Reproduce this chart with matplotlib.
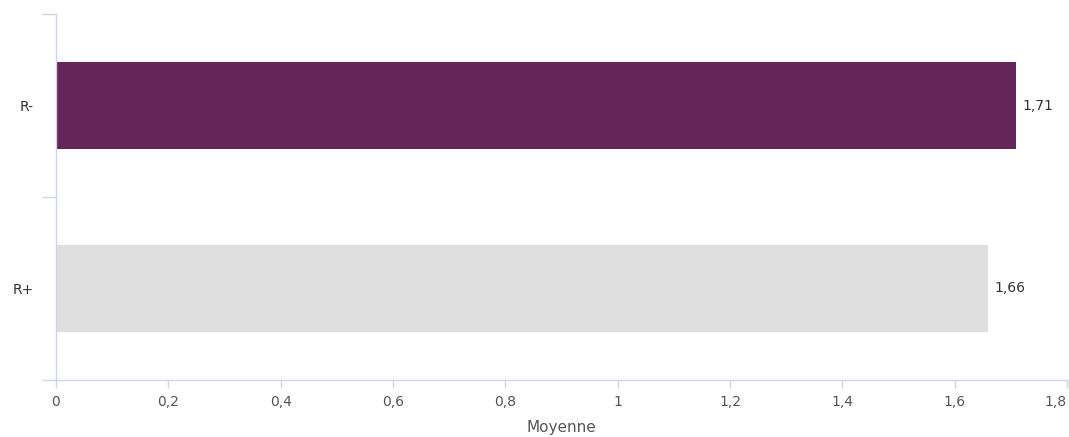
import matplotlib
matplotlib.use('Agg')
import matplotlib.pyplot as plt

# data
categories = ['R+', 'R-']
moyennes = [1.66, 1.71]
bar_colors = ['#dfdfdf', '#642559']
value_labels = ['1,66', '1,71']
x_ticks = [0, 0.2, 0.4, 0.6, 0.8, 1.0, 1.2, 1.4, 1.6, 1.8]
x_tick_labels = ['0', '0,2', '0,4', '0,6', '0,8', '1', '1,2', '1,4', '1,6', '1,8']

plt.rcParams['font.family'] = ['DejaVu Sans']
axis_color = '#ccd6eb'
text_color = '#555555'

fig = plt.figure(figsize=(10.69, 4.37), dpi=100)
W, H = 1069, 437
ax = fig.add_axes([56 / W, (H - 380) / H, (1067 - 56) / W, (380 - 14) / H])

pos = list(range(len(categories)))
ax.barh(pos, moyennes, height=0.48, color=bar_colors, linewidth=0)

for p, v, lab in zip(pos, moyennes, value_labels):
    ax.annotate(lab, (v, p), xytext=(4.5, 0), textcoords='offset points',
                va='center', ha='left', fontsize=10, color='#333333')

ax.set_xlim(0, 1.8)
ax.set_ylim(-0.5, 1.5)

# axis lines
for s in ['top', 'right']:
    ax.spines[s].set_visible(False)
for s in ['left', 'bottom']:
    ax.spines[s].set_color(axis_color)
    ax.spines[s].set_linewidth(1)

# y: boundary ticks (major) and category labels (minor)
ax.set_yticks([-0.5, 0.5, 1.5])
ax.set_yticklabels([])
ax.tick_params(axis='y', which='major', length=10, color=axis_color, width=1)
ax.set_yticks(pos, minor=True)
ax.set_yticklabels(categories, minor=True)
ax.tick_params(axis='y', which='minor', length=0, pad=16, labelsize=10, labelcolor='#333333')

ax.set_xticks(x_ticks)
ax.set_xticklabels(x_tick_labels)
ax.tick_params(axis='x', length=6, color=axis_color, width=1, pad=5,
               labelsize=10, labelcolor=text_color)
ax.get_xticklabels()[-1].set_horizontalalignment('right')

ax.set_xlabel('Moyenne', fontsize=11, color=text_color, labelpad=8)

fig.savefig('out.png', dpi=100)
